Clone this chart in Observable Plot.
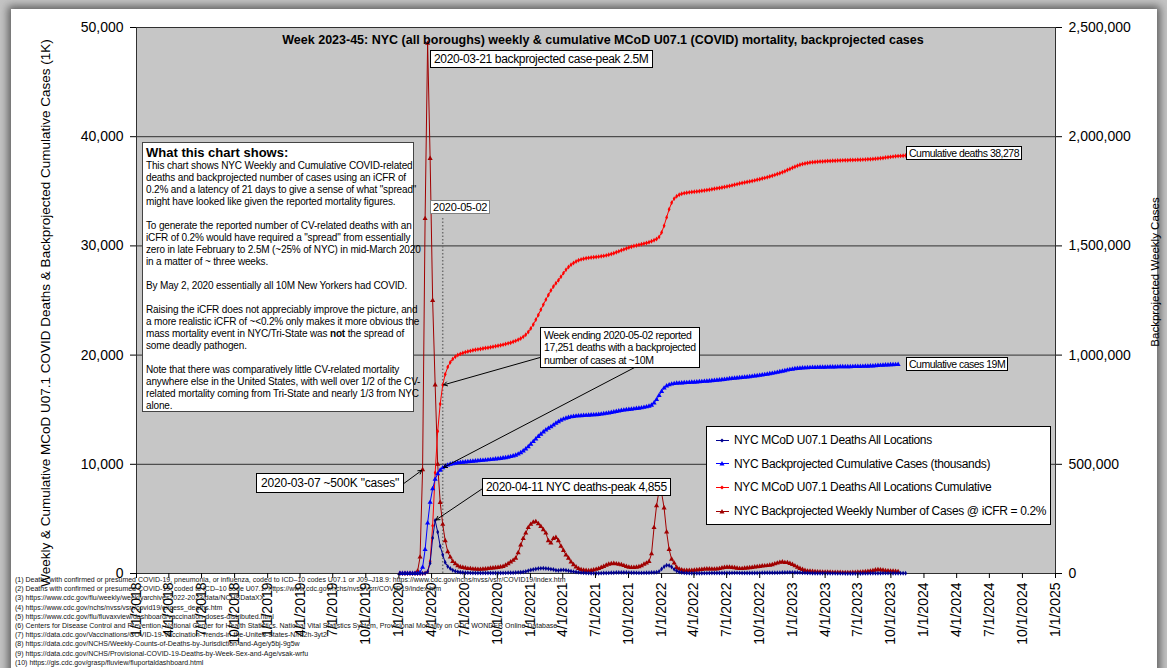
<!DOCTYPE html>
<html><head><meta charset="utf-8">
<script src="https://cdn.jsdelivr.net/npm/d3@7"></script>
<script src="https://cdn.jsdelivr.net/npm/@observablehq/plot@0.6"></script>
<style>
html,body{margin:0;padding:0;}
body{width:1167px;height:668px;overflow:hidden;background:#c4c4c4;font-family:"Liberation Sans",Arial,sans-serif;position:relative;}
#card{position:absolute;left:11px;top:9px;width:1146px;height:700px;background:#fff;box-shadow:0 0 8px 3px rgba(60,60,60,0.75);}
#chart{position:absolute;left:0;top:0;}
.abs{position:absolute;white-space:nowrap;color:#000;}
.box{position:absolute;white-space:nowrap;background:#fff;border:1px solid #000;color:#000;box-sizing:border-box;}
.rot{position:absolute;white-space:nowrap;transform:translate(-50%,-50%) rotate(-90deg);color:#000;}
#info{left:142px;top:142px;width:272px;height:270px;padding:2px 3px;font-size:10px;letter-spacing:-0.15px;line-height:12px;border:1px solid #444;}
#info b.h{font-size:13px;letter-spacing:0;line-height:15px;display:block;}
#legend{left:706px;top:426px;width:345px;height:99px;font-size:12px;letter-spacing:-0.35px;}
#legend .row{position:absolute;left:8px;height:16px;display:flex;align-items:center;}
#legend svg{margin-right:3px;}
#foot{position:absolute;left:15px;top:575px;font-size:7px;line-height:9.2px;color:#111;white-space:nowrap;}
</style></head><body>
<div id="card"></div>
<div id="chart"></div>
<script>
// ---------- data (weeks ending Saturday, first week ending 2020-01-04) ----------
const firstWeekEnding = "2020-01-04";

// NYC MCoD U07.1 Deaths All Locations (weekly)
const weeklyDeaths = [0,0,0,0,0,0,0,0,0,0,
20,150,950,3250,4855,3800,2500,1726,1000,650,
450,300,200,150,110,90,70,60,55,50,
45,45,40,40,38,38,40,42,45,48,
50,52,55,60,65,75,90,105,120,140,
190,260,320,370,420,450,470,475,455,430,
400,370,300,280,320,330,300,250,210,170,
140,105,80,60,45,35,30,28,26,28,
32,38,45,55,65,75,85,90,92,88,
85,80,72,65,58,55,55,58,62,70,
85,95,110,180,420,620,760,740,600,380,
220,130,95,55,40,32,28,27,27,28,
30,32,34,36,40,42,42,40,40,42,
45,50,55,58,58,55,52,48,45,45,
48,50,52,55,60,62,65,68,70,72,
75,80,88,95,102,105,100,100,92,82,
70,58,46,36,28,22,20,18,16,15,
14,13,12,12,11,10,10,9,9,8,
8,8,8,9,10,11,12,14,16,19,
22,25,32,34,33,30,26,24,22,20,
18,17];

// NYC MCoD U07.1 Deaths All Locations Cumulative
const cumulativeDeaths = [0,0,0,0,0,0,0,0,0,0,
20,170,1120,4370,9225,13025,15525,17251,18251,18901,
19351,19651,19851,20001,20111,20201,20271,20331,20386,20436,
20481,20526,20566,20606,20644,20682,20722,20764,20809,20857,
20907,20959,21014,21074,21139,21214,21304,21409,21529,21669,
21859,22119,22439,22809,23229,23679,24149,24624,25079,25509,
25909,26279,26579,26859,27179,27509,27809,28059,28269,28439,
28579,28684,28764,28824,28869,28904,28934,28962,28988,29016,
29048,29086,29131,29186,29251,29326,29411,29501,29593,29681,
29766,29846,29918,29983,30041,30096,30151,30209,30271,30341,
30426,30521,30631,30811,31231,31851,32611,33351,33951,34331,
34551,34681,34776,34831,34871,34903,34931,34958,34985,35013,
35043,35075,35109,35145,35185,35227,35269,35309,35349,35391,
35436,35486,35541,35599,35657,35712,35764,35812,35857,35902,
35950,36000,36052,36107,36167,36229,36294,36362,36432,36504,
36579,36659,36747,36842,36944,37049,37149,37249,37341,37423,
37493,37551,37597,37633,37661,37683,37703,37721,37737,37752,
37766,37779,37791,37803,37814,37824,37834,37843,37852,37860,
37868,37876,37884,37893,37903,37914,37926,37940,37956,37975,
37997,38022,38054,38088,38121,38151,38177,38201,38223,38243,
38261,38278];

// NYC Backprojected Weekly Number of Cases @ iCFR = 0.2% (right axis)
const weeklyCases = [0,0,0,0,0,0,0,10000,75000,475000,
1625000,2427500,1900000,1250000,863000,500000,325000,225000,150000,100000,
75000,55000,45000,35000,30000,27500,25000,22500,22500,20000,
20000,19000,19000,20000,21000,22500,24000,25000,26000,27500,
30000,32500,37500,45000,52500,60000,70000,95000,130000,160000,
185000,210000,225000,235000,237500,227500,215000,200000,185000,150000,
140000,160000,165000,150000,125000,105000,85000,70000,52500,40000,
30000,22500,17500,15000,14000,13000,14000,16000,19000,22500,
27500,32500,37500,42500,45000,46000,44000,42500,40000,36000,
32500,29000,27500,27500,29000,31000,35000,42500,47500,55000,
90000,210000,310000,380000,370000,300000,190000,110000,65000,47500,
27500,20000,16000,14000,13500,13500,14000,15000,16000,17000,
18000,20000,21000,21000,20000,20000,21000,22500,25000,27500,
29000,29000,27500,26000,24000,22500,22500,24000,25000,26000,
27500,30000,31000,32500,34000,35000,36000,37500,40000,44000,
47500,51000,52500,50000,50000,46000,41000,35000,29000,23000,
18000,14000,11000,10000,9000,8000,7500,7000,6500,6000,
6000,5500,5000,5000,4500,4500,4000,4000,4000,4000,
4500,5000,5500,6000,7000,8000,9500,11000,12500,16000,
17000,16500,15000,13000,12000,11000,10000,9000,8500];

// NYC Backprojected Cumulative Cases (thousands)
const cumulativeCasesK = [0,0,0,0,0,0,0,10,85,560,
2185,4613,6513,7763,8626,9126,9451,9676,9826,9926,
10001,10056,10101,10136,10166,10193,10218,10241,10263,10283,
10303,10322,10341,10361,10382,10405,10429,10454,10480,10507,
10537,10570,10607,10652,10705,10765,10835,10930,11060,11220,
11405,11615,11840,12075,12312,12540,12755,12955,13140,13290,
13430,13590,13755,13905,14030,14135,14220,14290,14342,14382,
14412,14435,14452,14467,14481,14494,14508,14524,14543,14566,
14593,14626,14663,14706,14751,14797,14841,14883,14923,14959,
14992,15021,15048,15076,15105,15136,15171,15213,15261,15316,
15406,15616,15926,16306,16676,16976,17166,17276,17341,17388,
17416,17436,17452,17466,17479,17493,17507,17522,17538,17555,
17573,17593,17614,17635,17655,17675,17696,17718,17743,17771,
17800,17829,17856,17882,17906,17929,17951,17975,18000,18026,
18054,18084,18115,18147,18181,18216,18252,18290,18330,18374,
18421,18472,18525,18575,18625,18671,18712,18747,18776,18799,
18817,18831,18842,18852,18861,18869,18876,18883,18890,18896,
18902,18907,18912,18917,18922,18926,18930,18934,18938,18942,
18947,18952,18957,18963,18970,18978,18988,18999,19011,19027,
19044,19061,19076,19089,19101,19112,19122,19131,19139];

const seriesNames = [
  "NYC MCoD U07.1 Deaths All Locations",
  "NYC Backprojected Cumulative Cases (thousands)",
  "NYC MCoD U07.1 Deaths All Locations Cumulative",
  "NYC Backprojected Weekly Number of Cases @ iCFR = 0.2%"
];
const seriesColors = ["#000090", "#0000ff", "#ff0000", "#a00000"];
const leftTicks = [0, 10000, 20000, 30000, 40000, 50000];
const rightAxisRatio = 50; // 2,500,000 right == 50,000 left
const xDomain = ["2018-01-01", "2025-01-01"];

const annotations = [
  {tail: ["2021-01-30", 19800], head: ["2020-05-02", "cumDeaths"]},
  {tail: ["2021-10-23", 18950], head: ["2020-05-02", "cumCases"]},
  {tail: ["2020-08-21", 7780], head: ["2020-04-11", "deaths"]},
  {tail: ["2020-01-11", 8150], head: ["2020-03-07", "cases"]}
];
const dottedDate = "2020-05-02";
const dottedTop = 32500;

const title = "Week 2023-45: NYC (all boroughs) weekly & cumulative MCoD U07.1 (COVID) mortality, backprojected cases";
const leftTitle = "Weekly & Cumulative MCoD U07.1 COVID Deaths & Backprojected Cumulative Cases (1K)";
const rightTitle = "Backprojected Weekly Cases";
const footnotes = [
"(1) Deaths with confirmed or presumed COVID-19, pneumonia, or influenza, coded to ICD–10 codes U07.1 or J09–J18.9: https://www.cdc.gov/nchs/nvss/vsrr/COVID19/index.htm",
"(2) Deaths with confirmed or presumed COVID-19, coded to ICD–10 code U07.1: https://www.cdc.gov/nchs/nvss/vsrr/COVID19/index.htm",
"(3) https://www.cdc.gov/flu/weekly/weeklyarchives2022-2023/data/NCHSDataXX",
"(4) https://www.cdc.gov/nchs/nvss/vsrr/covid19/excess_deaths.htm",
"(5) https://www.cdc.gov/flu/fluvaxview/dashboard/vaccination-doses-distributed.html",
"(6) Centers for Disease Control and Prevention, National Center for Health Statistics. National Vital Statistics System, Provisional Mortality on CDC WONDER Online Database",
"(7) https://data.cdc.gov/Vaccinations/COVID-19-Vaccination-Trends-in-the-United-States-N/rh2h-3yt2",
"(8) https://data.cdc.gov/NCHS/Weekly-Counts-of-Deaths-by-Jurisdiction-and-Age/y5bj-9g5w",
"(9) https://data.cdc.gov/NCHS/Provisional-COVID-19-Deaths-by-Week-Sex-and-Age/vsak-wrfu",
"(10) https://gis.cdc.gov/grasp/fluview/fluportaldashboard.html"
];

// ---------- build ----------
const D = s => new Date(s + "T00:00:00Z");
const t0 = D(firstWeekEnding).getTime();
const weekDates = weeklyDeaths.map((_, i) => new Date(t0 + i * 7 * 864e5));
const rows = arr => arr.map((v, i) => ({date: weekDates[i], v}));
const rDeaths = rows(weeklyDeaths), rCumDeaths = rows(cumulativeDeaths);
const rCases = rows(weeklyCases), rCumCases = rows(cumulativeCasesK);
const lookup = {deaths: rDeaths, cumDeaths: rCumDeaths, cases: rCases, cumCases: rCumCases};
const valAt = (key, ds) => {
  const r = lookup[key].find(d => +d.date === +D(ds));
  return key === "cases" ? r.v / rightAxisRatio : r.v;
};
const arrowRows = annotations.map(a => ({x1: D(a.tail[0]), y1: a.tail[1], x2: D(a.head[0]), y2: valAt(a.head[1], a.head[0])}));

const x0 = D(xDomain[0]), x1 = D(xDomain[1]);
const xTicks = d3.utcMonth.every(3).range(x0, new Date(+x1 + 864e5));
const fmtDate = d => `${d.getUTCMonth() + 1}/${d.getUTCDate()}/${d.getUTCFullYear()}`;

function seriesMarks(data, yfn, color, symbol, r) {
  return [
    Plot.line(data, {x: "date", y: yfn, stroke: color, strokeWidth: 1}),
    Plot.dot(data, {x: "date", y: yfn, symbol, r, fill: color, stroke: null})
  ];
}

const chart = Plot.plot({
  width: 1167, height: 668,
  marginTop: 27, marginRight: 112, marginBottom: 95, marginLeft: 136,
  x: {type: "utc", domain: [x0, x1]},
  y: {domain: [0, 50000]},
  style: {fontFamily: "'Liberation Sans', Arial, sans-serif", fontSize: "14px", background: "transparent", color: "#000", overflow: "visible"},
  marks: [
    Plot.frame({fill: "#c6c6c6", stroke: null}),
    Plot.ruleY(leftTicks, {stroke: "#303030", strokeWidth: 1}),
    Plot.ruleX([x0, x1], {stroke: "#303030"}),
    Plot.ruleX([D(dottedDate)], {y1: 0, y2: dottedTop, stroke: "#707070", strokeWidth: 1.5, strokeDasharray: "1.5,2"}),
    ...seriesMarks(rCases, d => d.v / rightAxisRatio, seriesColors[3], "triangle", 1.9),
    ...seriesMarks(rCumDeaths, "v", seriesColors[2], "diamond", 1.5),
    ...seriesMarks(rCumCases, "v", seriesColors[1], "triangle", 1.9),
    ...seriesMarks(rDeaths, "v", seriesColors[0], "diamond", 1.5),
    Plot.axisY({anchor: "left", ticks: leftTicks, tickFormat: d3.format(","), tickSize: 6, tickPadding: 7, label: null, fontSize: 14}),
    Plot.axisY({anchor: "right", ticks: leftTicks, tickFormat: d => d3.format(",")(d * rightAxisRatio), tickSize: 6, tickPadding: 7, label: null, fontSize: 14}),
    Plot.axisX({ticks: xTicks, tickFormat: fmtDate, tickRotate: -90, tickSize: 5, tickPadding: 4, label: null, fontSize: 14}),
    Plot.arrow(arrowRows, {x1: "x1", y1: "y1", x2: "x2", y2: "y2", stroke: "#000", strokeWidth: 1, headLength: 6, insetEnd: 1})
  ]
});
document.getElementById("chart").appendChild(chart);

// ---------- static text ----------
function add(html, cls, style) {
  const el = document.createElement("div");
  el.className = cls; el.innerHTML = html; Object.assign(el.style, style);
  document.body.appendChild(el); return el;
}
add(title, "abs", {left: "603px", top: "33px", transform: "translateX(-50%)", fontWeight: "bold", fontSize: "12.5px"});
add(leftTitle, "rot", {left: "45px", top: "313px", fontSize: "13.5px"});
add(rightTitle, "rot", {left: "1155px", top: "272px", fontSize: "11.5px"});

const info = add(`<b class="h">What this chart shows:</b>This chart shows NYC Weekly and Cumulative COVID-related<br>deaths and backprojected number of cases using an iCFR of<br>0.2% and a latency of 21 days to give a sense of what "spread"<br>might have looked like given the reported mortality figures.<br><br>To generate the reported number of CV-related deaths with an<br>iCFR of 0.2% would have required a "spread" from essentially<br>zero in late February to 2.5M (~25% of NYC) in mid-March 2020<br>in a matter of ~ three weeks.<br><br>By May 2, 2020 essentially all 10M New Yorkers had COVID.<br><br>Raising the iCFR does not appreciably improve the picture, and<br>a more realistic iCFR of ~&lt;0.2% only makes it more obvious the<br>mass mortality event in NYC/Tri-State was <b>not</b> the spread of<br>some deadly pathogen.<br><br>Note that there was comparatively little CV-related mortality<br>anywhere else in the United States, with well over 1/2 of the CV-<br>related mortality coming from Tri-State and nearly 1/3 from NYC<br>alone.`, "box", {});
info.id = "info";

add("2020-03-21 backprojected case-peak 2.5M", "box", {left: "430px", top: "50px", fontSize: "12px", letterSpacing: "-0.35px", padding: "1px 3px"});
add("2020-05-02", "box", {left: "430px", top: "200px", fontSize: "11px", letterSpacing: "-0.2px", padding: "0px 2px", border: "1px solid #808080"});
add("Week ending 2020-05-02 reported<br>17,251 deaths with a backprojected<br>number of cases at ~10M", "box", {left: "540px", top: "327px", fontSize: "10.5px", letterSpacing: "-0.4px", lineHeight: "12.3px", padding: "1px 3px"});
add("2020-04-11 NYC deaths-peak 4,855", "box", {left: "482px", top: "478px", fontSize: "12px", letterSpacing: "-0.35px", padding: "1px 3px"});
add('2020-03-07 ~500K "cases"', "box", {left: "256px", top: "473px", fontSize: "12px", letterSpacing: "-0.2px", padding: "2px 4px"});
add("Cumulative deaths 38,278", "box", {left: "906px", top: "146px", fontSize: "10.5px", letterSpacing: "-0.5px", padding: "0px 2px"});
add("Cumulative cases 19M", "box", {left: "906px", top: "357px", fontSize: "10.5px", letterSpacing: "-0.5px", padding: "0px 2px"});

const legend = add("", "box", {});
legend.id = "legend";
seriesNames.forEach((name, i) => {
  const c = seriesColors[i];
  const tri = i % 2 === 1;
  const mk = tri ? `<path d="M7,3 L9.5,7.5 L4.5,7.5 Z" fill="${c}"/>` : `<path d="M7,3.5 L9,5.5 L7,7.5 L5,5.5 Z" fill="${c}"/>`;
  const row = document.createElement("div");
  row.className = "row";
  row.style.top = (5 + i * 23.7) + "px";
  row.innerHTML = `<svg width="16" height="11"><line x1="1" x2="14" y1="5.5" y2="5.5" stroke="${c}" stroke-width="1"/>${mk}</svg><span>${name}</span>`;
  legend.appendChild(row);
});

add(footnotes.join("<br>"), "abs", {}).id = "foot";
</script>
</body></html>
